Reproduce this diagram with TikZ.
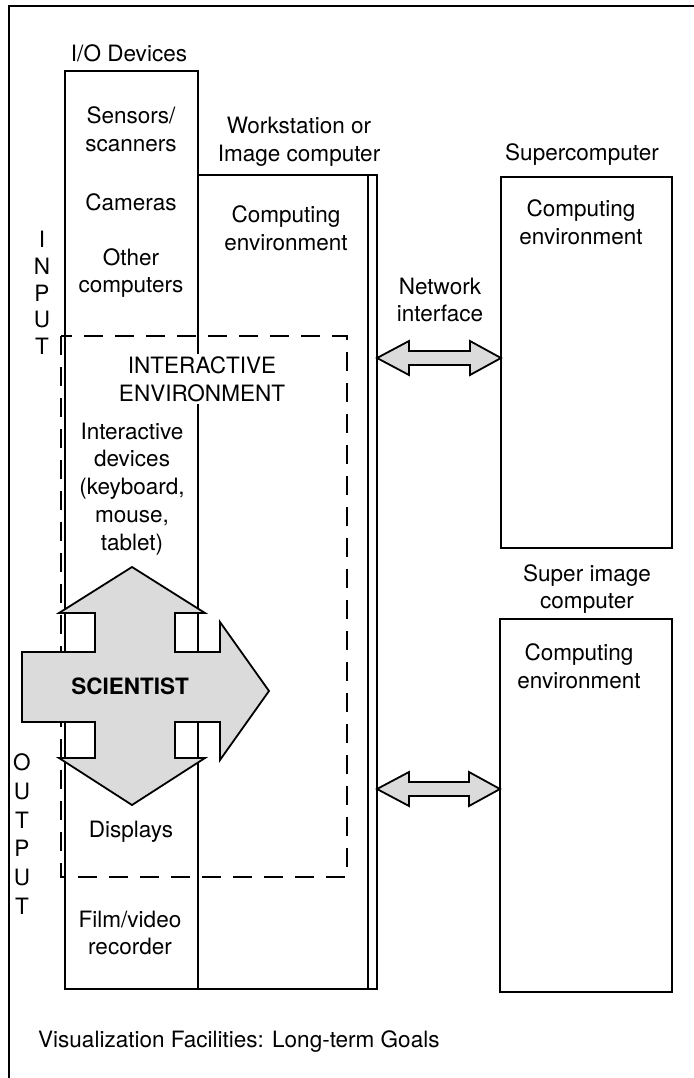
\documentclass[tikz,border=0pt]{standalone}
\usepackage{fontspec}
\setmainfont{TeX Gyre Heros}
\usetikzlibrary{calc}
\definecolor{shade}{gray}{0.86}
\tikzset{
  rule/.style={line width=1.8bp, line join=miter},
  box/.style={rule, draw, rectangle, inner sep=0pt, outer sep=0pt, anchor=north west},
  lbl/.style={inner sep=0pt, align=center, font=\fontsize{22.6}{28}\selectfont},
  letters/.style={inner sep=0pt, align=center, font=\fontsize{22.6}{26.8}\selectfont},
  zone/.style={line width=1.8bp, dash pattern=on 19bp off 12bp},
  bigarrow/.style={rule, draw, fill=shade},
  linkarrow/.style={rule, draw, fill=shade},
}
% double-headed link arrow between two named points on the same level
\newcommand\linkarrow[2]{%
  \path[linkarrow] let \p1=(#1), \p2=(#2) in
    (\x1,\y1) -- ({\x1+32bp},{\y1+17bp}) -- ({\x1+32bp},{\y1+7bp})
    -- ({\x2-31bp},{\y1+7bp}) -- ({\x2-31bp},{\y1+17bp}) -- (\x2,\y1)
    -- ({\x2-31bp},{\y1-17bp}) -- ({\x2-31bp},{\y1-7bp})
    -- ({\x1+32bp},{\y1-7bp}) -- ({\x1+32bp},{\y1-17bp}) -- cycle;}
\begin{document}
\begin{tikzpicture}[x=1bp,y=-1bp]
\useasboundingbox (0,0) rectangle (694,1078);

% outer frame
\draw[rule] (9,1078) -- (9,6) -- (694,6);

% main boxes
\node[box, minimum width=133bp, minimum height=918bp] (io) at (65,71) {};
\node[box, minimum width=179bp, minimum height=814bp] (ws) at (198,175) {};
\draw[rule] (368,175) -- (368,989);
\node[box, minimum width=171bp, minimum height=371bp] (sc) at (501,177) {};
\node[box, minimum width=172bp, minimum height=373bp] (sic) at (500,619) {};

% interactive environment
\draw[zone] (61,336) rectangle (347,877);

% network links
\coordinate (l1) at (ws.east |- 0,358);
\coordinate (r1) at (sc.west |- 0,358);
\coordinate (l2) at (ws.east |- 0,789);
\coordinate (r2) at (sic.west |- 0,789);
\linkarrow{l1}{r1}
\linkarrow{l2}{r2}

% scientist cross
\path[bigarrow] (132,567) -- (205,613) -- (175,613) -- (175,652) -- (220,652)
  -- (220,622) -- (269,691) -- (220,760) -- (220,722) -- (175,722) -- (175,758)
  -- (205,758) -- (132,805) -- (59,758) -- (95,758) -- (95,722) -- (22,722)
  -- (22,652) -- (95,652) -- (95,613) -- (59,613) -- cycle;
\node[lbl, font=\fontsize{22.6}{28}\selectfont\bfseries] (sci) at (130,686) {SCIENTIST};

% labels
\node[lbl] (iolbl) at (129,53) {I/O Devices};
\node[lbl] (sens) at (131,129) {Sensors/\\scanners};
\node[lbl] (cam) at (131,202) {Cameras};
\node[lbl] (oth) at (131,273) {Other\\computers};
\node[lbl] (wslbl) at (299,142) {Workstation or\\Image computer};
\node[lbl] (wsenv) at (286,228) {Computing\\environment};
\node[lbl] (net) at (440,300) {Network\\interface};
\node[lbl] (sclbl) at (582,155) {Supercomputer};
\node[lbl] (scenv) at (581,222) {Computing\\environment};
\node[lbl] (siclbl) at (587,589) {Super image\\computer};
\node[lbl] (sicenv) at (579,666) {Computing\\environment};
\node[lbl, fill=white, inner sep=2bp] (ie) at (202,379) {INTERACTIVE\\ENVIRONMENT};
\node[lbl] (idev) at (132,489) {Interactive\\devices\\(keyboard,\\mouse,\\tablet)};
\node[lbl] (disp) at (131,832) {Displays};
\node[lbl] (film) at (130,933) {Film/video\\recorder};
\node[letters] (inp) at (42,293) {I\\N\\P\\U\\T};
\node[lbl, font=\fontsize{22.6}{28.8}\selectfont] (outp) at (22,834) {O\\U\\T\\P\\U\\T};
\node[lbl, anchor=west] (cap) at (38,1042) {Visualization Facilities: Long-term Goals};
\end{tikzpicture}
\end{document}
